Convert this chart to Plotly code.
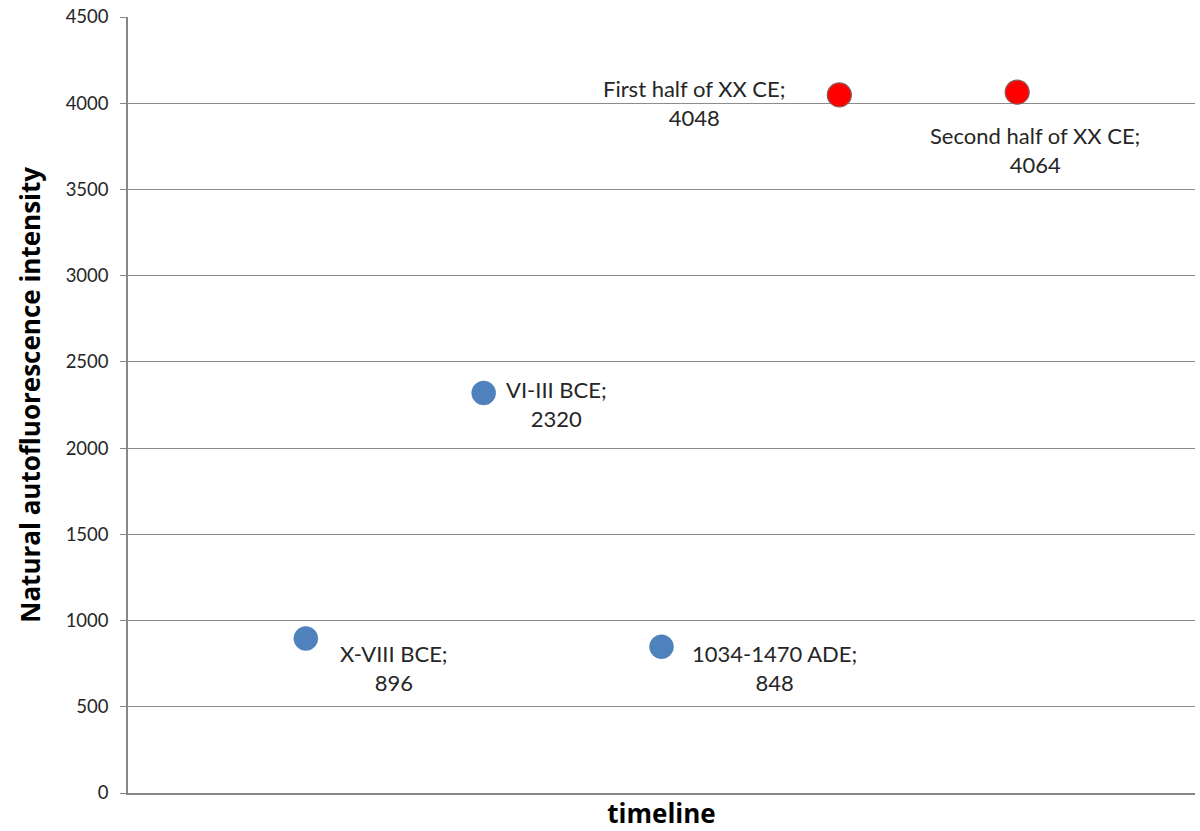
import plotly.graph_objects as go

# Dated samples and their measured natural autofluorescence intensity
periods = ["X-VIII BCE", "VI-III BCE", "1034-1470 ADE",
           "First half of XX CE", "Second half of XX CE"]
intensity = [896, 2320, 848, 4048, 4064]
is_modern = [False, False, False, True, True]

y_ticks = [0, 500, 1000, 1500, 2000, 2500, 3000, 3500, 4000, 4500]

# Label offsets (pixels) relative to each marker
label_shift = [(88, -30), (73, -11), (113, -21), (-145, -8), (18, -58)]

positions = list(range(1, len(periods) + 1))

FONT = "Lato, 'Open Sans', sans-serif"
TITLE_FONT = "'Open Sans', Lato, sans-serif"
BLUE = "#4F81BD"
RED = "#FF0000"

fig = go.Figure()

old_idx = [i for i, m in enumerate(is_modern) if not m]
new_idx = [i for i, m in enumerate(is_modern) if m]

fig.add_trace(go.Scatter(
    x=[positions[i] for i in old_idx],
    y=[intensity[i] for i in old_idx],
    mode="markers",
    marker=dict(size=24, color=BLUE, line=dict(width=0.5, color="#4A7AB5")),
    hoverinfo="skip",
    showlegend=False,
))
fig.add_trace(go.Scatter(
    x=[positions[i] for i in new_idx],
    y=[intensity[i] for i in new_idx],
    mode="markers",
    marker=dict(size=24, color=RED, line=dict(width=1.2, color="#8C5A5A")),
    hoverinfo="skip",
    showlegend=False,
))

for i, (name, val) in enumerate(zip(periods, intensity)):
    dx, dy = label_shift[i]
    fig.add_annotation(
        x=positions[i], y=val,
        text=f"{name};<br>{val}",
        showarrow=False,
        xanchor="center", yanchor="middle",
        align="center",
        xshift=dx, yshift=dy,
        font=dict(family=FONT, size=22, color="#262626"),
    )

# Vertical axis title, placed as a rotated paper annotation
fig.add_annotation(
    xref="paper", yref="paper",
    x=-0.092, y=0.513,
    text="<b>Natural autofluorescence intensity</b>",
    textangle=-90,
    showarrow=False,
    xanchor="center", yanchor="middle",
    font=dict(family=TITLE_FONT, size=26, color="black"),
)

fig.update_layout(
    width=1200, height=831,
    margin=dict(l=128, r=5, t=17, b=38),
    paper_bgcolor="white",
    plot_bgcolor="white",
    font=dict(family=FONT, color="#262626"),
)

fig.update_xaxes(
    range=[0, len(periods) + 1],
    showticklabels=False,
    showgrid=False,
    zeroline=False,
    showline=True, linecolor="#868686", linewidth=1.5,
    ticks="",
    title=dict(text="<b>timeline</b>", font=dict(family=TITLE_FONT, size=26, color="black"),
               standoff=14),
)
fig.update_yaxes(
    range=[0, 4500],
    tickvals=y_ticks,
    ticktext=[str(v) for v in y_ticks],
    tickfont=dict(family=FONT, size=18.5, color="#262626"),
    ticklabelstandoff=8,
    showgrid=True, gridcolor="#8C8C8C", gridwidth=1,
    zeroline=False,
    showline=True, linecolor="#868686", linewidth=1.5,
    ticks="outside", ticklen=6, tickcolor="#868686",
)

fig.write_html("out.html")
